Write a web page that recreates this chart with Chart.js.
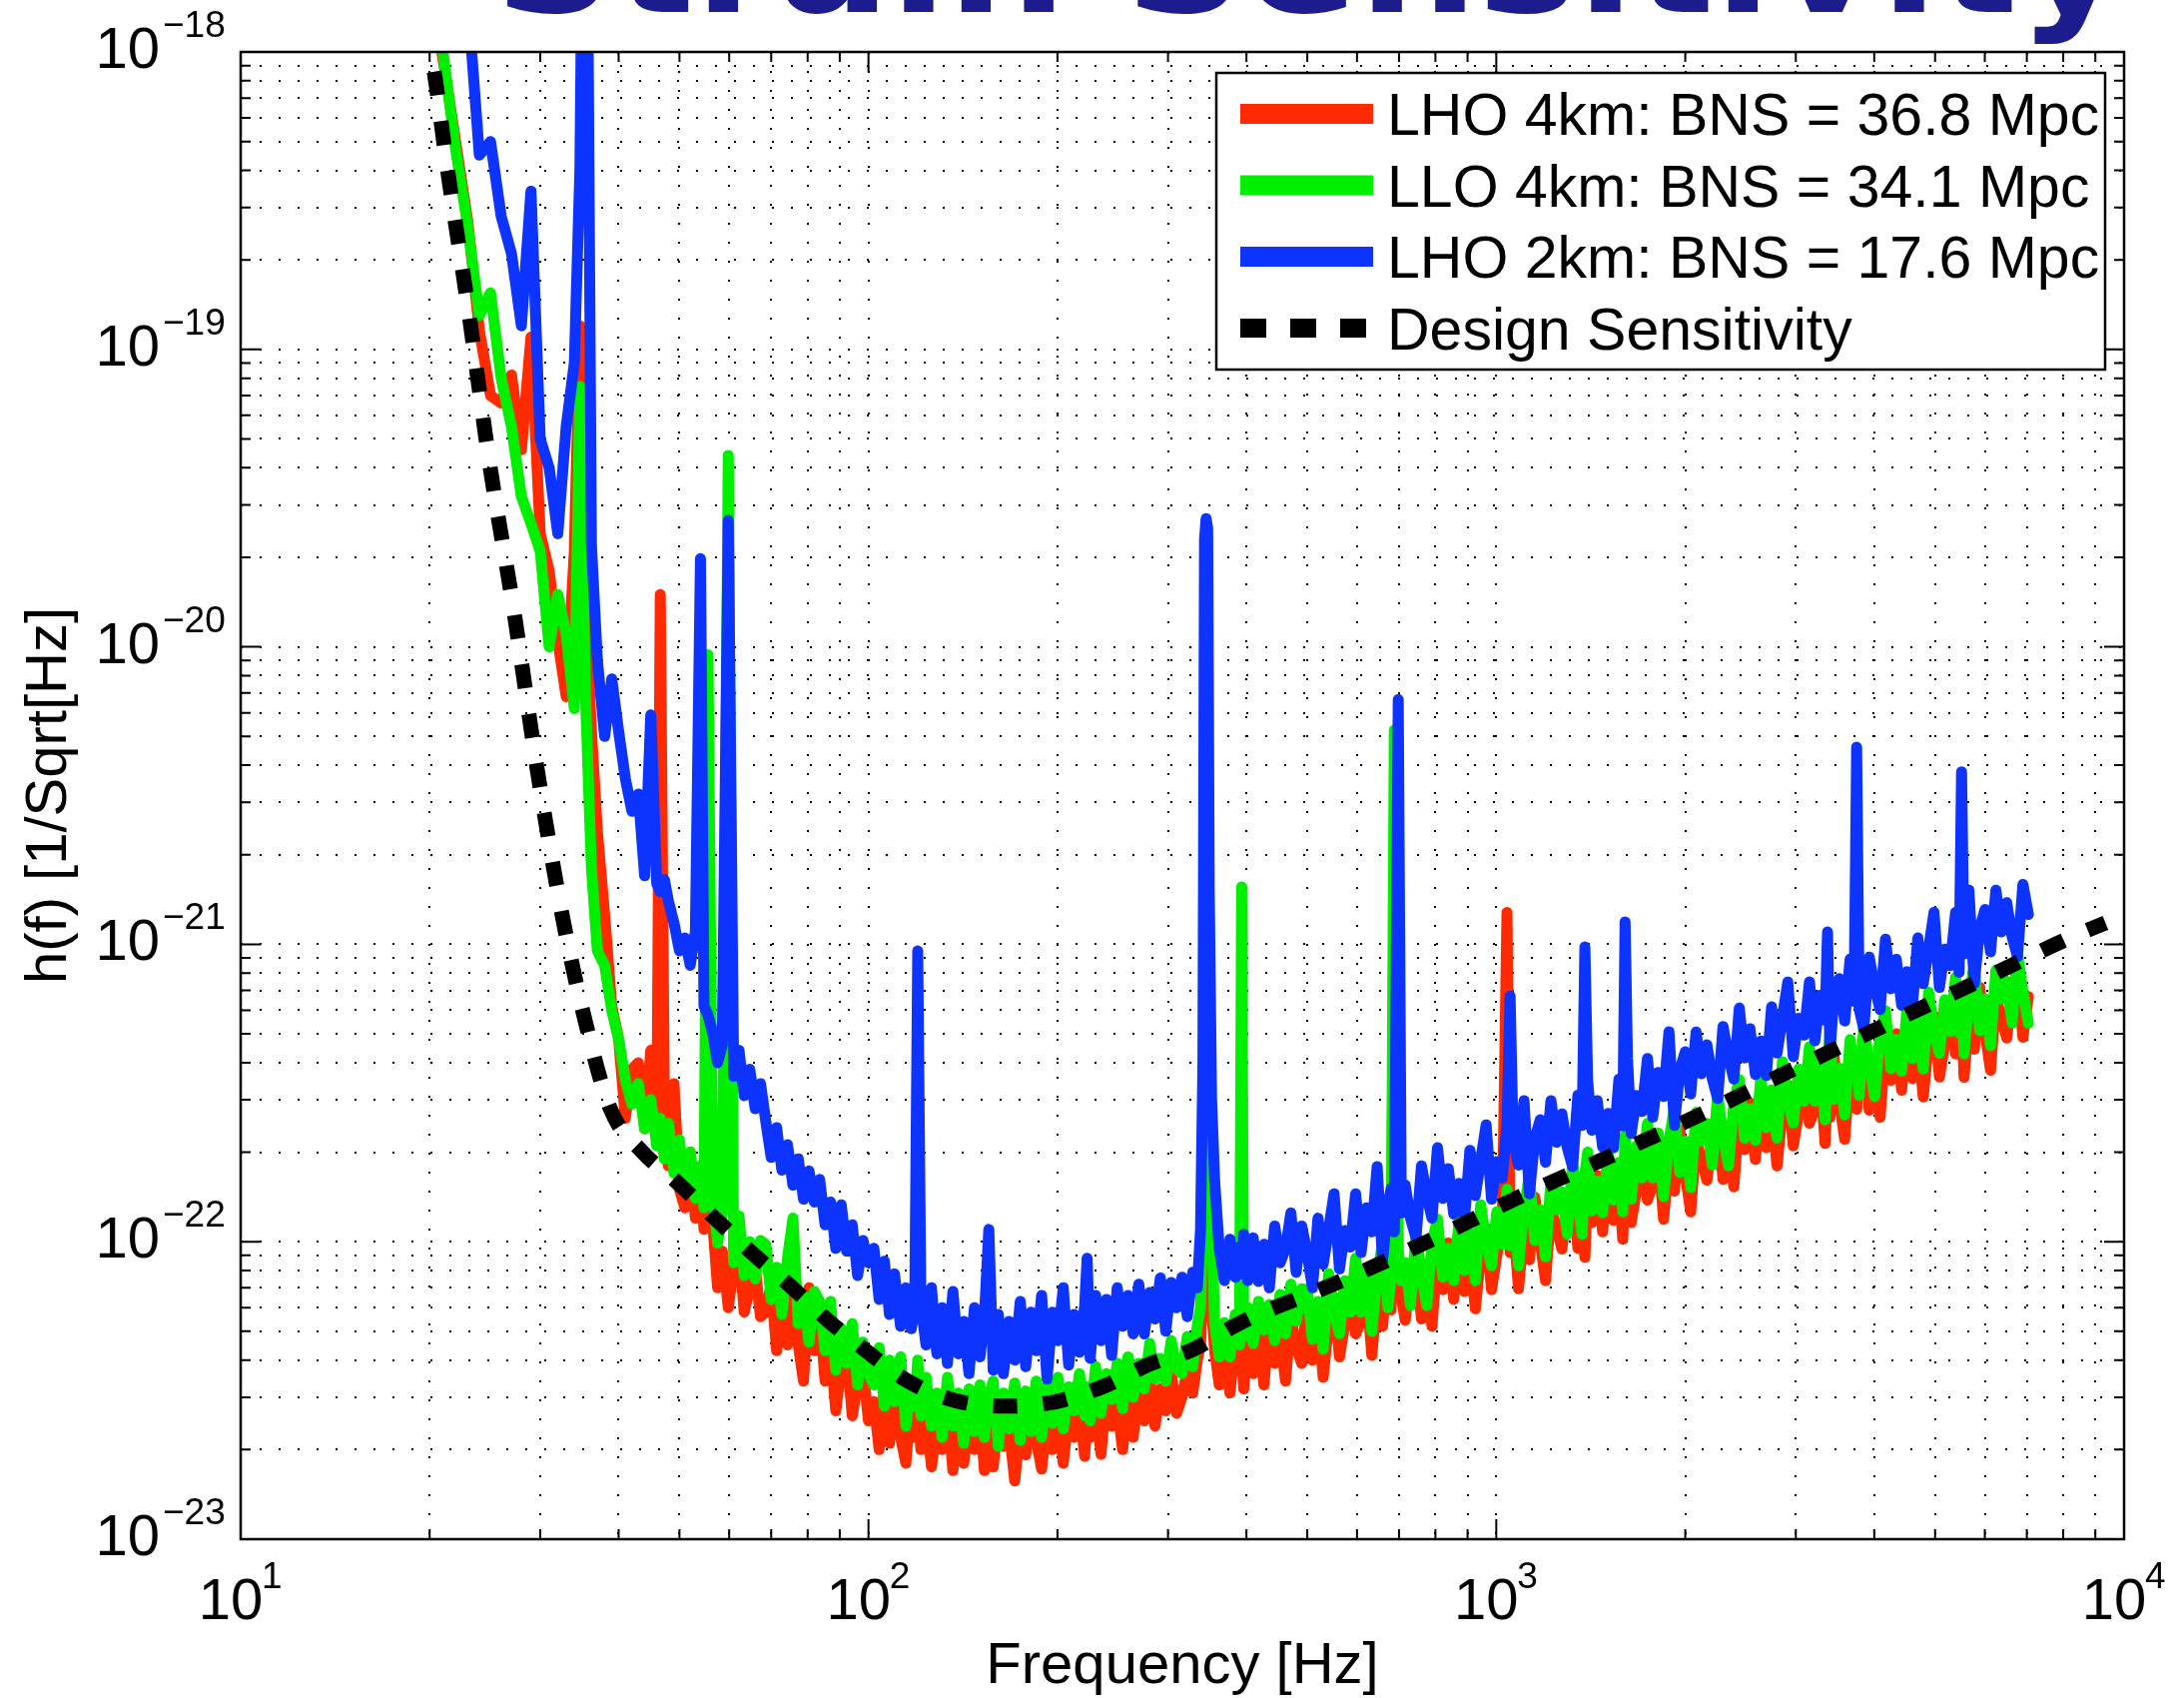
<!DOCTYPE html>
<html>
<head>
<meta charset="utf-8">
<script src="https://cdn.jsdelivr.net/npm/chart.js@4.4.1/dist/chart.umd.min.js"></script>
<style>
html,body{margin:0;padding:0;background:#fff;}
#wrap{width:2187px;height:1700px;position:relative;overflow:hidden;}
</style>
</head>
<body>
<div id="wrap"><canvas id="c" width="2187" height="1700"></canvas></div>
<script>
// ---------------- DATA (strain amplitude in units of 1e-23 /sqrt(Hz)) ----------------
const UNIT = 1e-23;

const freq = [
  19, 20, 21, 22, 23, 24, 25, 26, 27, 28,
  29, 30, 31, 32, 33, 34, 34.7, 35.4, 36.2, 37,
  38, 39, 40, 41, 42, 43, 44, 45, 46, 46.6,
  47.3, 48, 49, 50, 51, 52, 53, 54, 54.7, 55.5,
  56.5, 57.5, 58.5, 59.8, 61, 62.2, 63.4, 64.7, 66, 67.3,
  68.6, 70, 71.4, 72.8, 74.3, 75.8, 77.3, 78.8, 80.4, 82,
  83.6, 85.3, 87, 88.7, 90.5, 92.3, 94.2, 96.1, 98, 100,
  102, 104, 106, 108, 110, 112.5, 114.7, 117, 118.5, 119.8,
  121.2, 123.5, 126, 128.5, 131, 133.6, 136.3, 139, 141.8, 144.6,
  147.5, 150.5, 153, 155.5, 158, 161, 164, 167.5, 171, 174.5,
  178, 181.5, 185, 188.7, 192.5, 196.4, 200.3, 204.3, 208.4, 212.6,
  216.8, 221, 223, 225.5, 230, 234.6, 239.3, 244, 249, 254,
  259, 264, 269.5, 275, 280.5, 286, 291.7, 297.5, 303.5, 309.6,
  315.8, 322, 328.5, 334, 338, 341, 343, 345, 347, 349,
  352, 356, 362, 369, 376.5, 384, 390, 393, 396, 402,
  410, 418, 426.5, 435, 443.7, 452.6, 461.6, 470.8, 480, 489.8,
  499.6, 509.6, 520, 530, 540.8, 551.6, 562.6, 573.9, 585.4, 597,
  609, 621, 633.5, 646, 659, 672, 680, 688, 698, 706,
  716, 730, 745, 760, 775, 790, 806, 822, 838.7, 855.5,
  872.6, 890, 907.8, 926, 944.5, 963.4, 982.7, 1002, 1022, 1040,
  1052, 1064, 1085, 1107, 1129, 1152, 1175, 1198, 1222, 1247,
  1272, 1297, 1323, 1349, 1370, 1384, 1398, 1420, 1448, 1477,
  1507, 1537, 1568, 1590, 1604, 1618, 1640, 1673, 1706, 1741,
  1775, 1811, 1847, 1884, 1922, 1960, 2000, 2040, 2081, 2122,
  2165, 2208, 2252, 2297, 2343, 2390, 2438, 2487, 2536, 2587,
  2639, 2692, 2745, 2800, 2856, 2913, 2972, 3031, 3092, 3154,
  3217, 3281, 3340, 3370, 3400, 3450, 3519, 3589, 3661, 3715,
  3750, 3785, 3850, 3927, 4006, 4086, 4168, 4251, 4336, 4423,
  4511, 4601, 4693, 4787, 4883, 4980, 5080, 5182, 5285, 5390,
  5460, 5510, 5560, 5660, 5773, 5889, 6006, 6127, 6249, 6374,
  6502, 6632, 6764, 6900, 7040
];

// LHO 4km (red)
const lho4 = [
  400000, 170000, 95000, 50000, 27000, 11600, 7000, 6600, 8200, 4600,
  11000, 2400, 1800, 1050, 680, 2100, 12000, 1400, 520, 240,
  125, 62, 48, 26, 38, 40, 24, 44, 22, 1500,
  30, 18, 34, 15, 13, 20, 12, 17, 11, 14,
  11.5, 7.0, 9.3, 6.0, 8.3, 9.6, 5.8, 7.0, 8.2, 5.6,
  5.8, 7.2, 4.3, 6.0, 4.5, 6.9, 4.5, 3.4, 7.0, 4.3,
  5.7, 3.4, 4.4, 2.7, 3.8, 4.4, 2.6, 3.3, 3.8, 2.5,
  2.9, 2.0, 3.4, 2.1, 3.0, 2.2, 1.8, 3.1, 2.2, 3.1,
  2.0, 2.7, 1.75, 2.4, 2.0, 2.8, 1.7, 2.35, 1.8, 2.6,
  2.0, 2.7, 1.7, 2.4, 1.75, 2.55, 2.05, 2.35, 1.57, 2.45,
  1.92, 2.6, 2.15, 1.72, 2.5, 2.0, 2.75, 1.8, 2.65, 2.2,
  2.8, 1.9, 2.6, 2.2, 2.85, 1.93, 3.1, 2.4, 2.8, 2.0,
  3.0, 2.2, 3.25, 2.5, 3.55, 2.4, 3.2, 2.7, 3.65, 2.65,
  3.0, 3.7, 3.1, 4.0, 4.5, 7, 14, 60, 16, 9,
  6, 4.3, 3.3, 4.2, 3.1, 4.6, 3.7, 4.3, 3.2, 4.8,
  3.6, 5.0, 3.3, 5.4, 3.9, 4.85, 3.4, 5.6, 4.45, 3.9,
  6.3, 4.0, 5.5, 3.5, 5.3, 6.5, 4.1, 5.3, 6.5, 4.9,
  5.4, 7.2, 4.15, 6.6, 5.2, 8.4, 5.9, 200, 7.5, 6.5,
  5.45, 7.7, 9.0, 5.5, 7.5, 5.2, 9.1, 6.9, 9.9, 6.4,
  10.6, 6.8, 9.3, 5.95, 9.1, 11.1, 6.9, 9.0, 11.1, 128,
  9.2, 12.0, 6.95, 11.1, 8.7, 14.1, 10.0, 7.4, 12.9, 11.2,
  9.45, 13.3, 15.6, 9.5, 13.0, 8.85, 15.4, 11.6, 16.7, 10.8,
  18.3, 11.8, 16.1, 10.2, 15.5, 18.6, 11.6, 15.0, 18.6, 13.8,
  15.5, 20.4, 11.9, 18.9, 14.8, 23.8, 16.9, 12.6, 21.9, 19.0,
  16.1, 22.6, 26.6, 16.2, 22.2, 15.3, 26.9, 20.4, 29.3, 18.9,
  32.1, 20.7, 28.2, 18.0, 27.5, 33.6, 21.0, 27.2, 33.7, 25.0,
  28.0, 37.0, 21.4, 33.7, 26.2, 42.0, 29.8, 22.1, 38.5, 33.3,
  27.9, 38.8, 45.4, 27.7, 38.0, 26.2, 45.9, 34.9, 50.0, 32.3,
  54.9, 35.4, 48.2, 30.7, 47.0, 57.4, 35.8, 46.5, 57.6, 42.8,
  47.6, 62.1, 35.7, 56.6, 44.4, 71.7, 50.8, 37.7, 65.7, 57.2,
  48.4, 68.0, 79.8, 48.7, 66.8
];

// LLO 4km (green)
const llo4 = [
  500000, 200000, 100000, 47000, 26000, 13000, 15500, 8000, 5500, 3200,
  2600, 2100, 1000, 1500, 1100, 620, 7500, 700, 180, 95,
  85, 60, 48, 35, 29, 34, 24, 30, 21, 26,
  19, 25, 17, 22, 15, 20, 14, 18, 13, 940,
  15.1, 9.9, 12.5, 4400, 8.5, 12.2, 7.7, 10.0, 7.5, 10.1,
  9.8, 6.4, 8.2, 5.7, 8.8, 12.0, 5.3, 6.6, 4.6, 6.8,
  6.3, 4.3, 6.3, 3.7, 5.1, 3.9, 5.3, 3.3, 4.6, 3.6,
  3.3, 4.4, 2.8, 4.0, 2.9, 4.1, 2.4, 3.4, 2.8, 4.0,
  2.6, 3.5, 2.4, 3.1, 2.2, 3.5, 2.4, 3.1, 2.1, 3.2,
  2.3, 3.3, 2.2, 3.0, 3.4, 2.05, 3.1, 2.35, 3.35, 2.15,
  3.15, 2.3, 3.4, 2.2, 3.3, 2.45, 3.5, 2.35, 3.25, 2.7,
  3.6, 2.6, 3.25, 2.5, 3.8, 2.65, 3.6, 2.95, 3.9, 2.75,
  4.1, 3.0, 3.9, 3.2, 4.55, 3.45, 4.05, 3.4, 4.65, 3.75,
  3.6, 4.8, 3.8, 5.2, 6, 12, 40, 650, 60, 20,
  12, 5.3, 4.1, 5.35, 4.1, 5.7, 4.5, 156, 4.8, 6.0,
  4.55, 6.3, 5.05, 6.15, 4.65, 6.65, 4.9, 7.2, 5.4, 6.95,
  6.9, 4.7, 6.3, 4.35, 7.8, 5.8, 4.9, 7.4, 5.8, 8.8,
  5.8, 8.15, 5.0, 7.65, 9.9, 6.0, 7.6, 525, 9.3, 7.4,
  8.5, 6.1, 10.6, 7.8, 6.1, 9.9, 11.9, 7.6, 9.5, 7.4,
  11.8, 8.0, 10.7, 7.4, 13.3, 9.9, 8.3, 12.6, 9.8, 15.0,
  9.7, 13.65, 8.3, 12.8, 16.7, 10.1, 12.8, 8.9, 16.0, 12.8,
  14.7, 10.6, 18.4, 13.5, 10.6, 16.8, 20.0, 12.7, 16.0, 12.5,
  20.3, 13.8, 18.5, 12.6, 22.7, 16.6, 13.9, 21.0, 16.4, 25.0,
  16.4, 23.2, 14.2, 21.8, 28.3, 17.1, 21.8, 15.2, 27.2, 21.8,
  25.0, 18.1, 31.2, 22.9, 18.0, 29.1, 35.1, 22.3, 28.0, 21.9,
  35.5, 24.2, 32.4, 22.3, 40.3, 29.8, 25.1, 38.1, 29.7, 45.2,
  29.7, 42.1, 25.7, 38.9, 50.1, 30.1, 38.3, 26.7, 47.8, 38.1,
  43.3, 31.0, 53.4, 39.2, 30.8, 49.8, 59.8, 38.2, 47.8, 37.4,
  60.7, 41.3, 55.4, 38.1, 68.9, 51.0, 43.0, 65.1, 50.9, 77.4,
  50.4, 70.6, 42.8, 65.3, 85.1, 51.3, 65.5, 45.6, 81.7, 65.4,
  75.1, 54.4, 93.6, 69.0, 54.2
];

// LHO 2km (blue)
const lho2 = [
  2000000, 1200000, 700000, 350000, 150000, 45000, 50000, 28000, 21000, 12000,
  34000, 5000, 4000, 2400, 5500, 9000, 40000, 3000000, 2200, 900,
  500, 780, 520, 360, 280, 320, 170, 590, 160, 150,
  165, 140, 118, 95, 105, 85, 110, 1980, 62, 58,
  50, 40, 46, 2660, 36, 44, 31, 38, 28, 34,
  25.5, 19.2, 24.2, 17.4, 21.2, 15.5, 19.0, 13.9, 17.3, 13.6,
  16.2, 11.4, 13.6, 9.5, 13.3, 9.3, 11.4, 7.7, 10.1, 8.5,
  9.5, 6.4, 8.6, 5.7, 7.8, 5.2, 7.0, 5.1, 6.0, 95,
  6.2, 4.5, 7.0, 4.2, 6.0, 3.9, 6.8, 4.2, 5.4, 3.6,
  6.0, 4.1, 5.6, 11, 3.7, 5.7, 3.6, 5.4, 4.0, 6.3,
  3.8, 5.8, 4.3, 6.6, 3.45, 5.8, 4.65, 7.0, 3.85, 5.7,
  4.25, 6.1, 8.8, 4.05, 6.6, 4.65, 6.4, 4.15, 7.0, 5.2,
  6.6, 4.9, 7.2, 4.9, 6.75, 5.5, 7.55, 5.0, 7.3, 6.0,
  7.6, 5.6, 7.9, 7.0, 11, 40, 2300, 2700, 2500, 150,
  30, 16, 9.5, 7.4, 10.2, 7.6, 9.6, 7.8, 10.6, 7.4,
  10.3, 7.35, 9.8, 7.0, 11.3, 8.5, 9.5, 12.5, 7.9, 11.3,
  9.2, 7.0, 12.0, 8.4, 11.0, 14.5, 8.1, 10.9, 9.6, 14.5,
  9.2, 13.0, 10.8, 17.9, 8.65, 13.2, 15.1, 10.8, 665, 12.5,
  15.5, 12.0, 10.3, 18.0, 14.3, 12.0, 20.7, 14.0, 17.6, 12.4,
  15.7, 12.0, 20.3, 14.3, 18.8, 24.7, 13.9, 18.6, 16.4, 24.7,
  67, 21.8, 18.1, 29.8, 14.5, 22.2, 25.7, 18.5, 29.8, 21.6,
  26.9, 20.8, 17.9, 31.1, 24.6, 98, 34.9, 23.7, 29.8, 20.8,
  27.0, 20.7, 35.2, 24.5, 119, 41.4, 23.1, 31.0, 27.4, 41.3,
  26.2, 37.1, 30.8, 50.8, 24.6, 37.7, 43.5, 31.4, 50.7, 36.7,
  45.9, 35.4, 30.3, 52.9, 42.0, 35.2, 61.0, 41.5, 52.0, 36.5,
  47.3, 36.2, 61.6, 43.1, 56.7, 74.6, 41.9, 56.4, 49.5, 74.7,
  47.4, 67.4, 55.6, 110, 43.6, 66.3, 76.7, 55.2, 89.1, 64.3,
  460, 60.6, 51.9, 90.5, 72.0, 60.3, 104, 70.9, 89.0, 62.4,
  80.9, 62.0, 105, 73.7, 97.0, 128, 71.6, 96.3, 84.8, 128,
  80.5, 380, 92.7, 152, 74.0, 113, 131, 94.3, 152, 110,
  138, 106, 91, 159, 126
];

// Design sensitivity (black dashed)
const designFreq = [19.5, 20.2, 21.3, 23.1, 24.9, 27.3, 29.6, 32.5, 35.0, 38.8,
  43.6, 49.8, 56.9, 65.5, 75.2, 86.2, 99.4, 115, 137, 165,
  199, 239, 282, 326, 395, 554, 776, 1084, 1535, 2125,
  3010, 4170, 5840, 8180, 9340];
const designVals = [125000, 93300, 41700, 13200, 4170, 1280, 400, 126, 60.7, 28.0,
  20.1, 15.7, 12.0, 9.1, 7.08, 5.44, 4.28, 3.42, 2.93, 2.80,
  2.90, 3.29, 3.90, 4.31, 5.40, 7.24, 10.0, 14.1, 19.6, 26.9,
  38.5, 53.6, 74.8, 105, 118];

const seriesLabels = ['LHO 4km: BNS = 36.8 Mpc', 'LLO 4km: BNS = 34.1 Mpc', 'LHO 2km: BNS = 17.6 Mpc', 'Design Sensitivity'];
const seriesColors = ['#ff2a00', '#00f000', '#0d33ff', '#000000'];

const xMajor = [10, 100, 1000, 10000];
const xExp = ['1', '2', '3', '4'];
const yMajor = [1e-23, 1e-22, 1e-21, 1e-20, 1e-19, 1e-18];
const yExp = ['\u221223', '\u221222', '\u221221', '\u221220', '\u221219', '\u221218'];
const minorMult = [2, 3, 4, 5, 6, 7, 8, 9];

const titleText = 'Strain Sensitivity';
const xTitle = 'Frequency [Hz]';
const yTitle = 'h(f) [1/Sqrt[Hz]';

// ---------------- helpers ----------------
function withMinors(majors) {
  const out = [];
  majors.forEach((m, i) => {
    out.push({value: m, major: true});
    if (i < majors.length - 1) minorMult.forEach(k => out.push({value: k * m, major: false}));
  });
  return out;
}
const xTicks = withMinors(xMajor);
const yTicks = withMinors(yMajor);
const isMajor = v => Math.abs(Math.log10(v) - Math.round(Math.log10(v))) < 1e-6;
const toPts = (fs, vs) => fs.map((f, i) => ({x: f, y: vs[i] * UNIT}));

const FONT = 'Liberation Sans';
Chart.defaults.font.family = FONT;
Chart.defaults.color = '#000';

// ---------------- plugins ----------------
const titlePlugin = {
  id: 'slideTitle',
  afterDraw(chart) {
    const ctx = chart.ctx;
    ctx.save();
    ctx.fillStyle = '#1c1c8f';
    ctx.font = 'bold 150px "DejaVu Sans"';
    ctx.textBaseline = 'alphabetic';
    ctx.textAlign = 'left';
    const w = ctx.measureText(titleText).width;
    ctx.translate(495, 12);
    ctx.scale(1635 / w, 1);
    ctx.fillText(titleText, 0, 0);
    ctx.restore();
  }
};

const framePlugin = {
  id: 'frameTicks',
  afterDatasetsDraw(chart) {
    const {ctx, chartArea: a, scales: {x, y}} = chart;
    ctx.save();
    ctx.strokeStyle = '#000';
    ctx.lineWidth = 2;
    ctx.beginPath();
    xTicks.forEach(t => {
      const px = x.getPixelForValue(t.value);
      const L = t.major ? 20 : 10;
      ctx.moveTo(px, a.bottom); ctx.lineTo(px, a.bottom - L);
      ctx.moveTo(px, a.top); ctx.lineTo(px, a.top + L);
    });
    yTicks.forEach(t => {
      const py = y.getPixelForValue(t.value);
      const L = t.major ? 20 : 10;
      ctx.moveTo(a.left, py); ctx.lineTo(a.left + L, py);
      ctx.moveTo(a.right, py); ctx.lineTo(a.right - L, py);
    });
    ctx.stroke();
    ctx.lineWidth = 2.5;
    ctx.strokeRect(a.left, a.top, a.right - a.left, a.bottom - a.top);
    ctx.restore();
  }
};

const exponentPlugin = {
  id: 'exponents',
  afterDraw(chart) {
    const {ctx, chartArea: a, scales: {x, y}} = chart;
    ctx.save();
    ctx.fillStyle = '#000';
    ctx.font = '37px "' + FONT + '"';
    ctx.textAlign = 'left';
    ctx.textBaseline = 'alphabetic';
    yMajor.forEach((v, i) => {
      const py = y.getPixelForValue(v);
      ctx.fillText(yExp[i], a.left - 78, py - 15);
    });
    xMajor.forEach((v, i) => {
      const px = x.getPixelForValue(v);
      ctx.fillText(xExp[i], px + 21, a.bottom + 49);
    });
    ctx.restore();
  }
};

const legendPlugin = {
  id: 'boxLegend',
  afterDraw(chart) {
    const {ctx, chartArea: a} = chart;
    const bx = a.right - 19, by = a.top + 21, bw = 890, bh = 297;
    ctx.save();
    ctx.fillStyle = '#fff';
    ctx.fillRect(bx - bw, by, bw, bh);
    ctx.strokeStyle = '#000';
    ctx.lineWidth = 2.5;
    ctx.strokeRect(bx - bw, by, bw, bh);
    const x0 = bx - bw + 24, x1 = bx - bw + 155, tx = bx - bw + 171;
    ctx.font = '59px "' + FONT + '"';
    ctx.textBaseline = 'alphabetic';
    ctx.textAlign = 'left';
    chart.data.datasets.forEach((ds, i) => {
      const cy = by + 41 + i * 71.5;
      ctx.beginPath();
      ctx.strokeStyle = ds.borderColor;
      if (ds.borderDash && ds.borderDash.length) {
        ctx.lineWidth = 19;
        ctx.setLineDash([26, 24]);
      } else {
        ctx.lineWidth = 20;
        ctx.setLineDash([]);
      }
      ctx.lineCap = 'butt';
      ctx.moveTo(x0, cy); ctx.lineTo(x1 + 2, cy);
      ctx.stroke();
      ctx.setLineDash([]);
      ctx.fillStyle = '#000';
      ctx.fillText(ds.label, tx, cy + 21);
    });
    ctx.restore();
  }
};

// ---------------- chart ----------------
const common = {
  fill: false, pointRadius: 0, borderWidth: 11, tension: 0,
  borderJoinStyle: 'round', borderCapStyle: 'round', clip: 0, spanGaps: true
};

new Chart(document.getElementById('c').getContext('2d'), {
  type: 'line',
  data: {
    datasets: [
      Object.assign({label: seriesLabels[0], data: toPts(freq, lho4), borderColor: seriesColors[0], order: 3}, common),
      Object.assign({label: seriesLabels[1], data: toPts(freq, llo4), borderColor: seriesColors[1], order: 2}, common),
      Object.assign({label: seriesLabels[2], data: toPts(freq, lho2), borderColor: seriesColors[2], order: 1}, common),
      {label: seriesLabels[3], data: toPts(designFreq, designVals), borderColor: seriesColors[3], order: 0,
       fill: false, pointRadius: 0, borderWidth: 15, borderDash: [24, 26], borderCapStyle: 'butt',
       borderJoinStyle: 'miter', cubicInterpolationMode: 'monotone', clip: 0}
    ]
  },
  options: {
    responsive: false,
    animation: false,
    devicePixelRatio: 1,
    layout: {padding: {left: 0, right: 60, top: 52, bottom: 0}, autoPadding: false},
    plugins: {legend: {display: false}, tooltip: {enabled: false}, title: {display: false}},
    scales: {
      x: {
        type: 'logarithmic', position: 'bottom', min: 10, max: 10000,
        afterBuildTicks: s => { s.ticks = xTicks.map(t => ({value: t.value, major: t.major})); },
        afterFit: s => { s.height = 159; s.paddingLeft = 0; s.paddingRight = 0; },
        grid: {color: '#000', lineWidth: 2, drawTicks: false},
        border: {display: false, dash: [2, 17]},
        ticks: {
          autoSkip: false, maxRotation: 0, minRotation: 0, padding: 35, labelOffset: -10,
          font: {size: 58, lineHeight: 1}, color: '#000',
          callback: v => isMajor(v) ? '10' : ''
        },
        title: {display: true, text: xTitle, font: {size: 58, lineHeight: 1}, color: '#000', padding: {top: 0, bottom: 2}}
      },
      y: {
        type: 'logarithmic', position: 'left', min: 1e-23, max: 1e-18,
        afterBuildTicks: s => { s.ticks = yTicks.map(t => ({value: t.value, major: t.major})); },
        afterFit: s => { s.width = 241; s.paddingTop = 0; s.paddingBottom = 0; },
        grid: {color: '#000', lineWidth: 2, drawTicks: false},
        border: {display: false, dash: [2, 17]},
        ticks: {
          autoSkip: false, padding: 81,
          font: {size: 58, lineHeight: 1}, color: '#000',
          callback: v => isMajor(v) ? '10' : ''
        },
        title: {display: true, text: yTitle, font: {size: 58, lineHeight: 1}, color: '#000', padding: {top: 21, bottom: 0}}
      }
    }
  },
  plugins: [framePlugin, legendPlugin, exponentPlugin, titlePlugin]
});
</script>
</body>
</html>
